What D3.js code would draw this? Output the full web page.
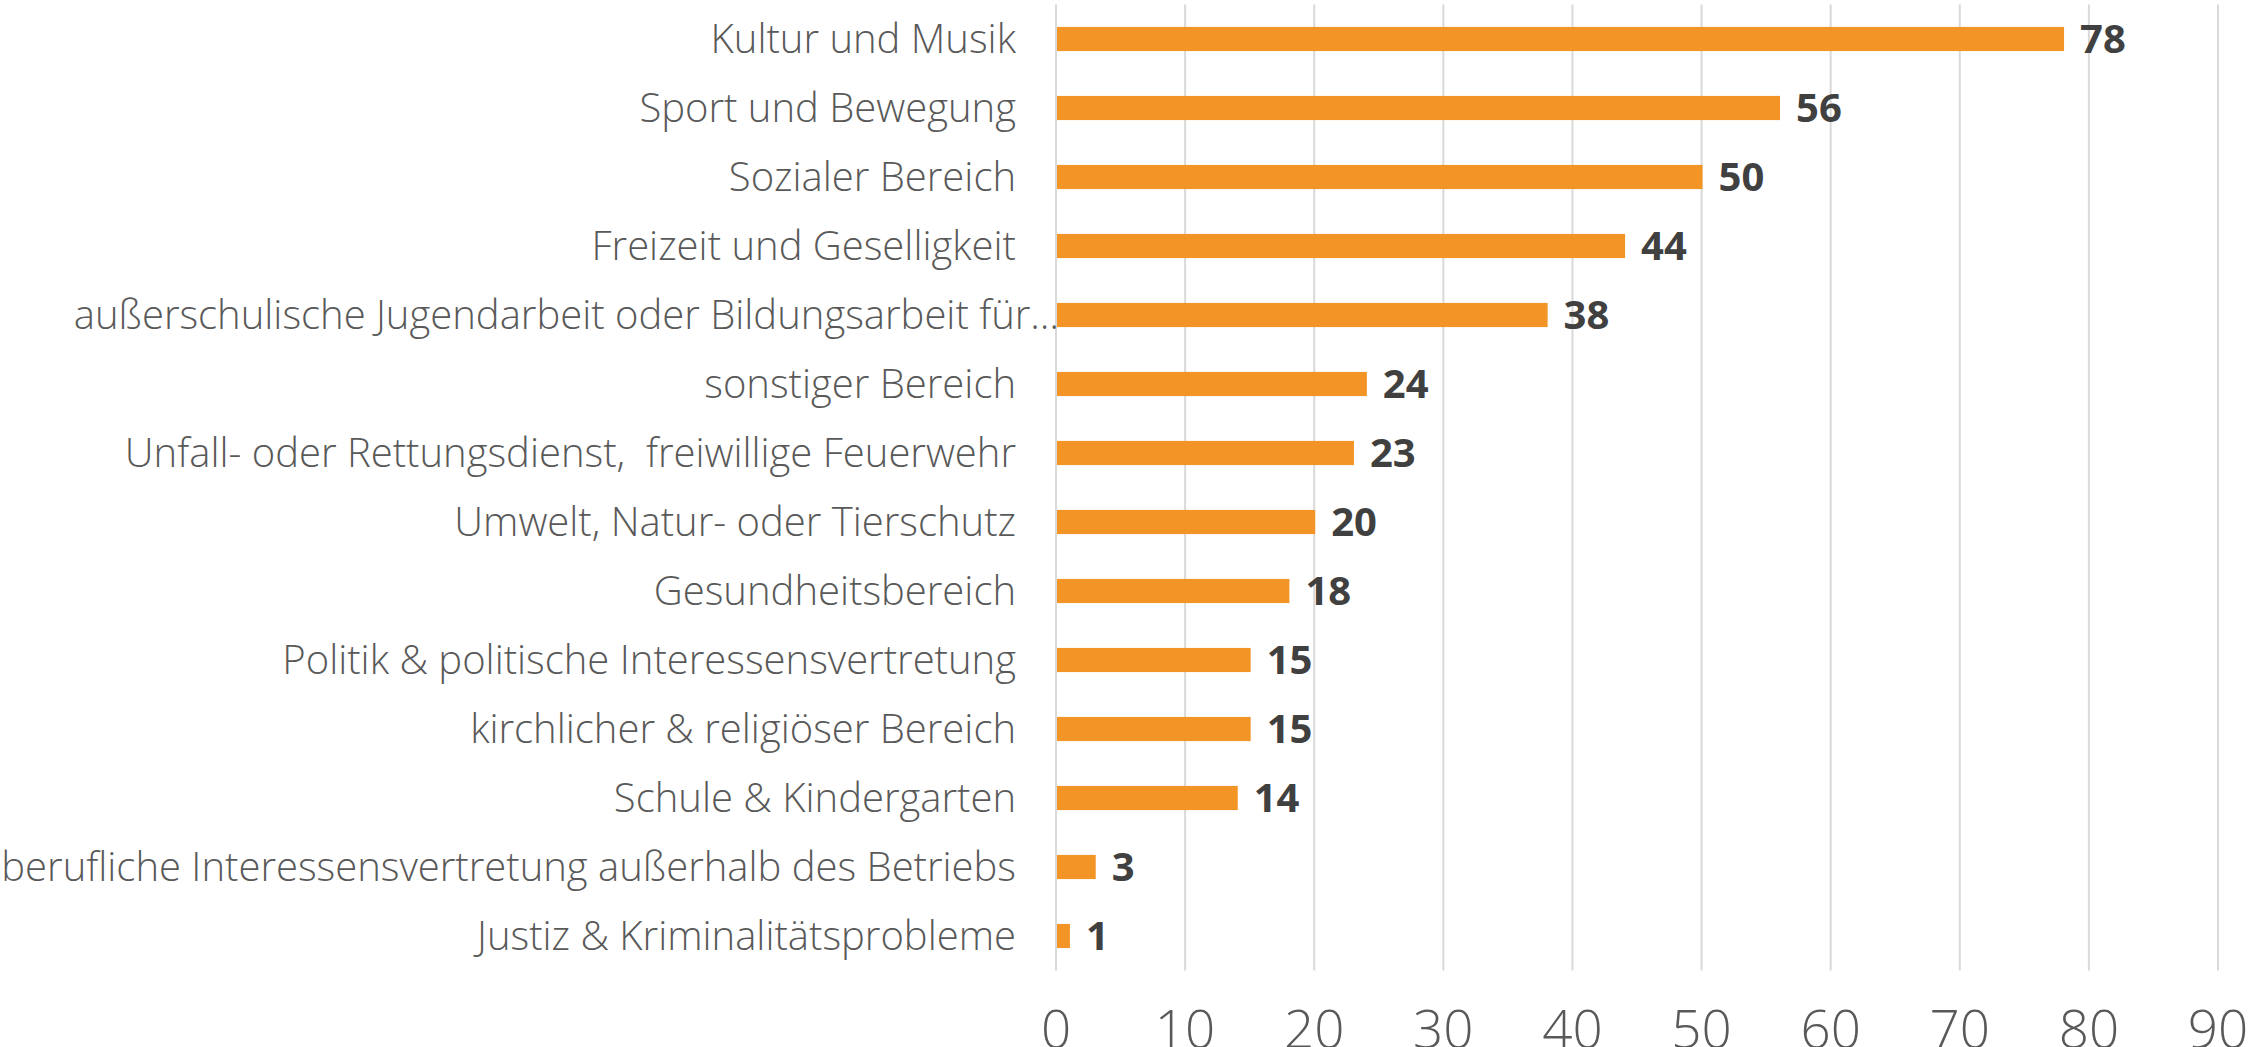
<!DOCTYPE html>
<html>
<head>
<meta charset="utf-8">
<script src="https://cdn.jsdelivr.net/npm/d3@7"></script>
<style>
  html, body { margin: 0; padding: 0; background: #fff; }
  svg text { font-family: "Open Sans", "Noto Sans", sans-serif; }
</style>
</head>
<body>
<div id="chart"></div>
<script>
// categories top to bottom
const kategorien = [
    "Kultur und Musik",
    "Sport und Bewegung",
    "Sozialer Bereich",
    "Freizeit und Geselligkeit",
    "außerschulische Jugendarbeit oder Bildungsarbeit für…",
    "sonstiger Bereich",
    "Unfall- oder Rettungsdienst,  freiwillige Feuerwehr",
    "Umwelt, Natur- oder Tierschutz",
    "Gesundheitsbereich",
    "Politik & politische Interessensvertretung",
    "kirchlicher & religiöser Bereich",
    "Schule & Kindergarten",
    "berufliche Interessensvertretung außerhalb des Betriebs",
    "Justiz & Kriminalitätsprobleme"
];
const werte = [78, 56, 50, 44, 38, 24, 23, 20, 18, 15, 15, 14, 3, 1];
const xTicks = [0, 10, 20, 30, 40, 50, 60, 70, 80, 90];

const svgWidth = 2263, svgHeight = 1047;
const margin = { top: 4.5, right: 45, bottom: 76.5, left: 1056 };
const width = svgWidth - margin.left - margin.right;
const height = svgHeight - margin.top - margin.bottom;

const svg = d3.select("#chart")
    .append("svg")
    .attr("width", svgWidth)
    .attr("height", svgHeight);

const g = svg.append("g")
    .attr("transform", `translate(${margin.left},${margin.top})`);

const x = d3.scaleLinear().domain([0, 90]).range([0, width]);
const y = d3.scaleBand().domain(kategorien).range([0, height]).paddingInner(0.65).paddingOuter(0.325);

// gridlines
g.selectAll(".grid")
    .data(xTicks)
    .enter()
    .append("line")
    .attr("x1", d => x(d))
    .attr("x2", d => x(d))
    .attr("y1", 0)
    .attr("y2", height)
    .attr("stroke", "#d9d9d9")
    .attr("stroke-width", 2);

// bars
const daten = kategorien.map((k, i) => ({ k: k, v: werte[i] }));
g.selectAll(".bar")
    .data(daten)
    .enter()
    .append("rect")
    .attr("x", x(0) + 1)
    .attr("y", d => y(d.k))
    .attr("width", d => x(d.v) - x(0))
    .attr("height", y.bandwidth())
    .attr("fill", "#f39427");

// value labels
g.selectAll(".wert")
    .data(daten)
    .enter()
    .append("text")
    .attr("x", d => x(d.v) + 17)
    .attr("y", d => y(d.k) + y.bandwidth() / 2)
    .attr("dy", "0.36em")
    .attr("font-size", "40px")
    .attr("font-weight", "bold")
    .attr("fill", "#404040")
    .text(d => d.v);

// category labels
g.selectAll(".kat")
    .data(kategorien)
    .enter()
    .append("text")
    .attr("x", d => d.endsWith("…") ? 3 : -40)
    .attr("y", d => y(d) + y.bandwidth() / 2)
    .attr("dy", "0.36em")
    .attr("text-anchor", "end")
    .attr("font-size", "40px")
    .attr("font-weight", 300)
    .attr("fill", "#595959")
    .style("white-space", "pre")
    .text(d => d);

// x axis labels (cut at the bottom edge, as in the original)
g.selectAll(".tick-label")
    .data(xTicks)
    .enter()
    .append("text")
    .attr("x", d => x(d))
    .attr("y", height + 77)
    .attr("text-anchor", "middle")
    .attr("font-size", "53px")
    .attr("font-weight", 300)
    .attr("fill", "#595959")
    .text(d => d);
</script>
</body>
</html>
